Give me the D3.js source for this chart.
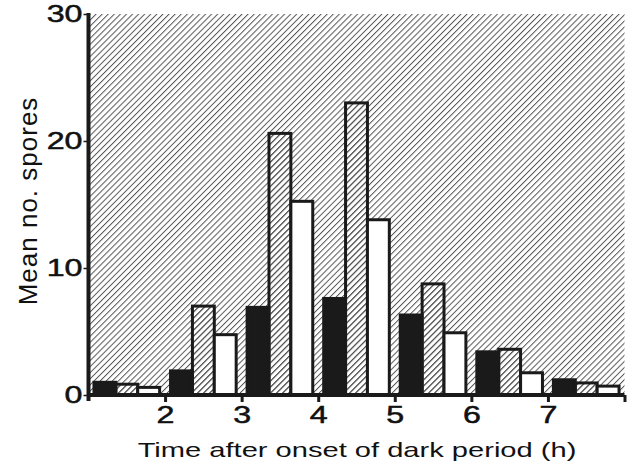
<!DOCTYPE html>
<html>
<head>
<meta charset="utf-8">
<script src="https://cdn.jsdelivr.net/npm/d3@7"></script>
<style>
  body { margin: 0; background: #fff; }
  text { font-family: "Liberation Sans", Arial, sans-serif; fill: #111; }
</style>
</head>
<body>
<svg width="630" height="468"></svg>
<script>
var hours = [1, 2, 3, 4, 5, 6, 7];
var seriesNames = ["black", "hatched", "white"];
var blackVals = [1.0, 1.9, 6.9, 7.6, 6.3, 3.4, 1.2];
var hatchedVals = [0.85, 7.0, 20.6, 23.0, 8.75, 3.6, 0.95];
var whiteVals = [0.6, 4.75, 15.25, 13.8, 4.9, 1.75, 0.7];
var xTickMarks = [2, 3, 4, 5, 6, 7, 8];
var xTickLabels = ["2", "3", "4", "5", "6", "7", ""];
var yTicks = [0, 10, 20, 30];

var svg = d3.select("svg"),
    stretch = 1.4;

var x = d3.scaleLinear().domain([1, 8]).range([88.5, 624.5]);
var y = d3.scaleLinear().domain([0, 30]).range([395, 14]);

var inner = d3.scaleBand()
    .domain(seriesNames)
    .range([0, x(2) - x(1)])
    .paddingInner(0)
    .paddingOuter(0.25);

// hatch pattern
var defs = svg.append("defs");
defs.append("pattern")
    .attr("id", "hatch")
    .attr("patternUnits", "userSpaceOnUse")
    .attr("width", 4.3)
    .attr("height", 4.3)
    .attr("patternTransform", "rotate(45)")
  .append("line")
    .attr("x1", 0.5).attr("y1", 0)
    .attr("x2", 0.5).attr("y2", 4.3)
    .attr("stroke", "#555")
    .attr("stroke-width", 1);

svg.append("rect")
    .attr("x", x(1))
    .attr("y", y(30))
    .attr("width", x(8) - x(1))
    .attr("height", y(0) - y(30))
    .attr("fill", "url(#hatch)");

var rows = [];
hours.forEach(function(h, i) {
    rows.push({hour: h, key: "black", value: blackVals[i]});
    rows.push({hour: h, key: "hatched", value: hatchedVals[i]});
    rows.push({hour: h, key: "white", value: whiteVals[i]});
});

var fills = {black: "#1a1a1a", hatched: "url(#hatch)", white: "#fff"};

svg.append("g")
    .attr("class", "bars")
    .selectAll("rect")
    .data(rows)
    .enter().append("rect")
    .attr("x", function(d) { return x(d.hour) + inner(d.key); })
    .attr("y", function(d) { return y(d.value); })
    .attr("width", inner.bandwidth())
    .attr("height", function(d) { return y(0) - y(d.value); })
    .attr("fill", function(d) { return fills[d.key]; })
    .attr("stroke", "#1a1a1a")
    .attr("stroke-width", 3);

// x axis
var gx = svg.append("g")
    .attr("transform", "translate(0," + y(0) + ")")
    .call(d3.axisBottom(x).tickValues(xTickMarks).tickSize(7).tickPadding(5)
          .tickFormat(function(d, i) { return xTickLabels[i]; }));
gx.select(".domain").attr("stroke", "#1a1a1a").attr("stroke-width", 4)
    .attr("d", "M" + x(1) + ",0H" + x(8));
gx.selectAll(".tick line").attr("stroke", "#1a1a1a").attr("stroke-width", 3);
gx.selectAll(".tick text")
    .attr("font-size", 23)
    .attr("font-family", "Liberation Sans, Arial, sans-serif")
    .attr("fill", "#111")
    .attr("stroke", "#111").attr("stroke-width", 0.5)
    .attr("transform", "scale(" + stretch + ",1)");

// y axis
var gy = svg.append("g")
    .attr("transform", "translate(" + x(1) + ",0)")
    .call(d3.axisLeft(y).tickValues(yTicks).tickSize(5).tickPadding(3).tickFormat(d3.format("d")));
gy.select(".domain").attr("stroke", "#1a1a1a").attr("stroke-width", 4)
    .attr("d", "M0," + (y(30) - 1) + "V" + (y(0) + 6));
gy.selectAll(".tick line").attr("stroke", "#1a1a1a").attr("stroke-width", 1.5);
gy.selectAll(".tick text")
    .attr("font-size", 23)
    .attr("font-family", "Liberation Sans, Arial, sans-serif")
    .attr("fill", "#111")
    .attr("stroke", "#111").attr("stroke-width", 0.5)
    .attr("transform", "scale(" + stretch + ",1)")
    .attr("x", -6 / stretch);

// axis titles
svg.append("text")
    .attr("transform", "translate(357,457) scale(1.42,1)")
    .attr("text-anchor", "middle")
    .attr("font-size", 20.5)
    .text("Time after onset of dark period (h)");

svg.append("text")
    .attr("transform", "translate(37,201) rotate(-90)")
    .attr("text-anchor", "middle")
    .attr("font-size", 26)
    .attr("letter-spacing", 1)
    .text("Mean no. spores");
</script>
</body>
</html>
